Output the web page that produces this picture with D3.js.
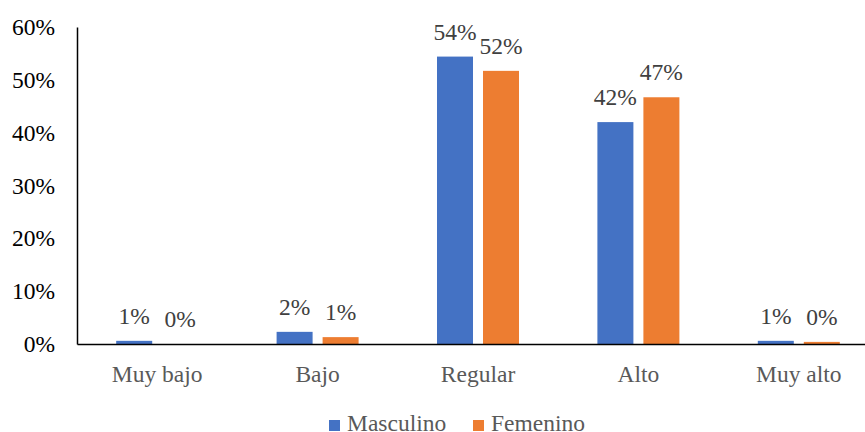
<!DOCTYPE html>
<html>
<head>
<meta charset="utf-8">
<script src="https://cdn.jsdelivr.net/npm/d3@7/dist/d3.min.js"></script>
<style>
  html, body { margin: 0; padding: 0; background: #fff; }
  svg { display: block; }
</style>
</head>
<body>
<svg id="chart" width="865" height="432"></svg>
<script>
// Nivel por sexo (proporción de cada grupo)
const categories = ["Muy bajo", "Bajo", "Regular", "Alto", "Muy alto"];
const seriesNames = ["Masculino", "Femenino"];
const masculino = [0.006, 0.023, 0.544, 0.420, 0.006];
const femenino  = [0.000, 0.013, 0.517, 0.467, 0.004];
const yTicks = [0, 0.1, 0.2, 0.3, 0.4, 0.5, 0.6];
const colors = ["#4472C4", "#ED7D31"];

const FONT = "Liberation Serif";
const FONT_SIZE = "23.5px";
const seriesValues = [masculino, femenino];
const rows = categories.map((c, i) => ({
  category: c,
  values: seriesNames.map((s, j) => ({ series: s, value: seriesValues[j][i] }))
}));

const svg = d3.select("#chart");
const margin = { left: 77, top: 27, bottom: 344 };
const plotRight = 879;

const x0 = d3.scaleBand().domain(categories).range([margin.left, plotRight]).paddingInner(0).paddingOuter(0);
const x1 = d3.scaleBand().domain(seriesNames)
  .range([x0.bandwidth() / 2 - 41, x0.bandwidth() / 2 + 41])
  .paddingInner(10 / 46).paddingOuter(0);
const y = d3.scaleLinear().domain([0, 0.6]).range([margin.bottom, margin.top]);
const color = d3.scaleOrdinal().domain(seriesNames).range(colors);
const pct = d3.format(".0%");

// Bars
const groups = svg.append("g").selectAll("g").data(rows).join("g")
  .attr("transform", d => `translate(${x0(d.category)},0)`);

groups.selectAll("rect").data(d => d.values).join("rect")
  .attr("x", d => x1(d.series))
  .attr("width", x1.bandwidth())
  .attr("y", d => y(d.value))
  .attr("height", d => y(0) - y(d.value))
  .attr("fill", d => color(d.series));

// Value labels
groups.selectAll("text").data(d => d.values).join("text")
  .attr("x", d => x1(d.series) + x1.bandwidth() / 2)
  .attr("y", d => y(d.value) - 17)
  .attr("text-anchor", "middle")
  .style("font-family", FONT)
  .style("font-size", FONT_SIZE)
  .style("fill", "#404040")
  .text(d => pct(d.value));

// Y axis
const yAxis = svg.append("g")
  .attr("transform", `translate(${margin.left},0)`)
  .call(d3.axisLeft(y).tickValues(yTicks).tickFormat(pct).tickSize(0).tickPadding(22));
yAxis.select(".domain").attr("stroke", "#000").attr("stroke-width", 1.5);
yAxis.selectAll("text")
  .style("font-family", FONT)
  .style("font-size", FONT_SIZE).style("fill", "#000");

// X axis
const xAxis = svg.append("g")
  .attr("transform", `translate(0,${margin.bottom})`)
  .call(d3.axisBottom(x0).tickSize(0).tickPadding(21));
xAxis.select(".domain").attr("stroke", "#000").attr("stroke-width", 1.5);
xAxis.selectAll("text")
  .style("font-family", FONT)
  .style("font-size", FONT_SIZE).style("fill", "#595959");

// Legend
const legendItems = [{ name: "Masculino", x: 329 }, { name: "Femenino", x: 473 }];
const legend = svg.append("g").selectAll("g").data(legendItems).join("g")
  .attr("transform", d => `translate(${d.x},0)`);
legend.append("rect")
  .attr("x", 0).attr("y", 420).attr("width", 11).attr("height", 11)
  .attr("fill", d => color(d.name));
legend.append("text")
  .attr("x", 18).attr("y", 430.5)
  .style("font-family", FONT)
  .style("font-size", FONT_SIZE).style("fill", "#595959")
  .text(d => d.name);
</script>
</body>
</html>
